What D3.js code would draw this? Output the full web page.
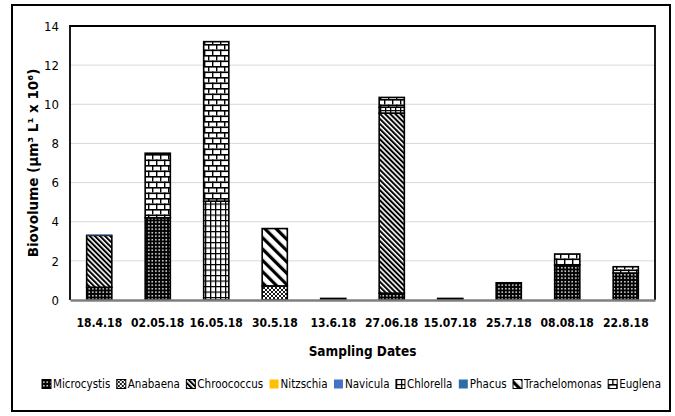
<!DOCTYPE html>
<html>
<head>
<meta charset="utf-8">
<script src="https://cdn.jsdelivr.net/npm/d3@7/dist/d3.min.js"></script>
<style>
  html, body { margin: 0; padding: 0; background: #fff; }
  svg { display: block; }
  text { font-family: "DejaVu Sans Condensed", "Liberation Sans Narrow", "Liberation Sans", sans-serif; fill: #000; }
</style>
</head>
<body>
<svg id="chart" width="675" height="416"></svg>
<script>
// Sampling dates (x categories)
const dates = ["18.4.18", "02.05.18", "16.05.18", "30.5.18", "13.6.18", "27.06.18", "15.07.18", "25.7.18", "08.08.18", "22.8.18"];

// Biovolume per taxon (µm³ L⁻¹ × 10⁶), one value per sampling date
const microcystis   = [0.65, 4.20, 0.00, 0.00, 0.08, 0.35, 0.08, 0.88, 1.80, 1.38];
const anabaena      = [0.00, 0.00, 0.00, 0.72, 0.00, 0.00, 0.00, 0.00, 0.00, 0.00];
const chroococcus   = [2.65, 0.00, 0.00, 0.00, 0.00, 9.20, 0.00, 0.00, 0.00, 0.00];
const nitzschia     = [0.00, 0.00, 0.00, 0.00, 0.00, 0.00, 0.00, 0.00, 0.00, 0.00];
const navicula      = [0.04, 0.00, 0.00, 0.00, 0.00, 0.00, 0.00, 0.00, 0.00, 0.00];
const chlorella     = [0.00, 0.00, 5.05, 0.00, 0.00, 0.30, 0.00, 0.00, 0.00, 0.00];
const phacus        = [0.00, 0.00, 0.00, 0.00, 0.00, 0.00, 0.00, 0.00, 0.00, 0.00];
const trachelomonas = [0.00, 0.00, 0.00, 2.93, 0.00, 0.00, 0.00, 0.00, 0.00, 0.00];
const euglena       = [0.00, 3.30, 8.15, 0.00, 0.00, 0.50, 0.00, 0.00, 0.55, 0.32];

const taxa = ["Microcystis", "Anabaena", "Chroococcus", "Nitzschia", "Navicula", "Chlorella", "Phacus", "Trachelomonas", "Euglena"];
const seriesValues = [microcystis, anabaena, chroococcus, nitzschia, navicula, chlorella, phacus, trachelomonas, euglena];

// Y axis ticks
const yTicks = [0, 2, 4, 6, 8, 10, 12, 14];

const svg = d3.select("#chart");
const defs = svg.append("defs");

// ---- fill patterns ----
function pat(id, w, h, transform) {
  const p = defs.append("pattern").attr("id", id)
    .attr("patternUnits", "userSpaceOnUse").attr("width", w).attr("height", h);
  if (transform) p.attr("patternTransform", transform);
  return p;
}
// Microcystis: black with small white dots
let p = pat("p-microcystis", 3.5, 3.5);
p.append("rect").attr("width", 3.5).attr("height", 3.5).attr("fill", "#000");
p.append("rect").attr("x", 1).attr("y", 1).attr("width", 1.6).attr("height", 1.4).attr("fill", "#fff");
// Anabaena: fine diamond cross-hatch
p = pat("p-anabaena", 4, 4);
p.append("rect").attr("width", 4).attr("height", 4).attr("fill", "#fff");
p.append("path").attr("d", "M0,0L4,4M4,0L0,4").attr("stroke", "#000").attr("stroke-width", 0.9);
// Chroococcus: dense diagonal stripes
p = pat("p-chroococcus", 3.6, 3.6, "rotate(-45)");
p.append("rect").attr("width", 3.6).attr("height", 3.6).attr("fill", "#fff");
p.append("rect").attr("width", 2).attr("height", 3.6).attr("fill", "#000");
// Chlorella: grid
p = pat("p-chlorella", 5, 5.5);
p.append("rect").attr("width", 5).attr("height", 5.5).attr("fill", "#fff");
p.append("rect").attr("width", 1.3).attr("height", 5.5).attr("fill", "#000");
p.append("rect").attr("width", 5).attr("height", 1.2).attr("fill", "#000");
// Trachelomonas: wide diagonal stripes
p = pat("p-trachelomonas", 8, 8, "rotate(-45)");
p.append("rect").attr("width", 8).attr("height", 8).attr("fill", "#fff");
p.append("rect").attr("width", 3.2).attr("height", 8).attr("fill", "#000");
// Euglena: horizontal brick
p = pat("p-euglena", 8, 11);
p.append("rect").attr("width", 8).attr("height", 11).attr("fill", "#fff");
p.append("rect").attr("y", 0).attr("width", 8).attr("height", 1.6).attr("fill", "#000");
p.append("rect").attr("y", 5.5).attr("width", 8).attr("height", 1.6).attr("fill", "#000");
p.append("rect").attr("x", 0).attr("y", 0).attr("width", 1.4).attr("height", 5.5).attr("fill", "#000");
p.append("rect").attr("x", 4).attr("y", 5.5).attr("width", 1.4).attr("height", 5.5).attr("fill", "#000");

const fills = {
  Microcystis: "url(#p-microcystis)",
  Anabaena: "url(#p-anabaena)",
  Chroococcus: "url(#p-chroococcus)",
  Nitzschia: "#FFC000",
  Navicula: "#4472C4",
  Chlorella: "url(#p-chlorella)",
  Phacus: "#2E6DA4",
  Trachelomonas: "url(#p-trachelomonas)",
  Euglena: "url(#p-euglena)"
};
const solid = new Set(["Nitzschia", "Navicula", "Phacus"]);

// ---- outer frame ----
svg.append("rect").attr("x", 12).attr("y", 5).attr("width", 658).attr("height", 406)
  .attr("fill", "none").attr("stroke", "#000").attr("stroke-width", 2);

// ---- scales ----
const plot = { left: 70, right: 655, top: 26, bottom: 300 };
const x = d3.scaleBand().domain(dates).range([plot.left, plot.right]).paddingInner(0.57).paddingOuter(0.285);
const y = d3.scaleLinear().domain([0, 14]).range([plot.bottom, plot.top]);

// gridlines
svg.append("g").selectAll("line").data(yTicks.filter(d => d > 0 && d < 14)).join("line")
  .attr("x1", plot.left).attr("x2", plot.right)
  .attr("y1", d => y(d)).attr("y2", d => y(d))
  .attr("stroke", "#d9d9d9").attr("stroke-width", 1);

// plot frame (top/left/right)
svg.append("path")
  .attr("d", `M${plot.left},${plot.bottom}V${plot.top}H${plot.right}V${plot.bottom}`)
  .attr("fill", "none").attr("stroke", "#000").attr("stroke-width", 1.8);

// ---- stacked bars ----
const table = dates.map((d, i) => {
  const row = { date: d };
  taxa.forEach((t, k) => row[t] = seriesValues[k][i]);
  return row;
});
const stacked = d3.stack().keys(taxa)(table);

const barG = svg.append("g");
stacked.forEach(layer => {
  const key = layer.key;
  barG.append("g").selectAll("rect")
    .data(layer.filter(s => s[1] - s[0] > 0))
    .join("rect")
    .attr("x", s => x(s.data.date))
    .attr("width", x.bandwidth())
    .attr("y", s => y(s[1]))
    .attr("height", s => y(s[0]) - y(s[1]))
    .attr("fill", s => (s[1] - s[0] < 0.15 && !solid.has(key)) ? "#000" : fills[key])
    .attr("stroke", solid.has(key) ? "none" : "#000")
    .attr("stroke-width", 1.6);
});

// ---- axes ----
const yAxis = svg.append("g").attr("transform", `translate(${plot.left},0)`)
  .call(d3.axisLeft(y).tickValues(yTicks).tickSize(0).tickPadding(11));
yAxis.select(".domain").remove();
yAxis.selectAll("text").attr("font-size", 13)
  .attr("font-family", "'DejaVu Sans Condensed', sans-serif");

const xAxis = svg.append("g").attr("transform", `translate(0,${plot.bottom})`)
  .call(d3.axisBottom(x).tickSize(0).tickPadding(18));
xAxis.select(".domain").attr("stroke", "#7f7f7f").attr("stroke-width", 2.5);
xAxis.selectAll("text").attr("font-size", 12).attr("font-weight", "bold")
  .attr("font-family", "'DejaVu Sans Condensed', sans-serif");

// axis titles
svg.append("text")
  .attr("x", (plot.left + plot.right) / 2).attr("y", 356)
  .attr("text-anchor", "middle").attr("font-size", 13.5).attr("font-weight", "bold")
  .text("Sampling Dates");

svg.append("text")
  .attr("transform", `translate(38,${(plot.top + plot.bottom) / 2}) rotate(-90)`)
  .attr("text-anchor", "middle").attr("font-size", 13.5).attr("font-weight", "bold")
  .style("font-family", "'DejaVu Sans', sans-serif")
  .text("Biovolume (µm³ L¹ x 10⁶)");

// ---- legend: items spread across the available width ----
const legend = svg.append("g");
const ly = 384, lStart = 42, lEnd = 661, sw = 9, sGap = 2;
const items = taxa.map(t => {
  const g = legend.append("g");
  g.append("rect").attr("x", 0).attr("y", -4.5).attr("width", sw).attr("height", sw)
    .attr("fill", fills[t]).attr("stroke", solid.has(t) ? "none" : "#000").attr("stroke-width", 1);
  const tx = g.append("text").attr("x", sw + sGap).attr("y", 4.3).attr("font-size", 11.5).text(t);
  return { g, w: sw + sGap + tx.node().getComputedTextLength() };
});
const totalW = d3.sum(items, d => d.w);
const gap = (lEnd - lStart - totalW) / (items.length - 1);
let lx = lStart;
items.forEach(it => {
  it.g.attr("transform", `translate(${lx},${ly})`);
  lx += it.w + gap;
});
</script>
</body>
</html>
